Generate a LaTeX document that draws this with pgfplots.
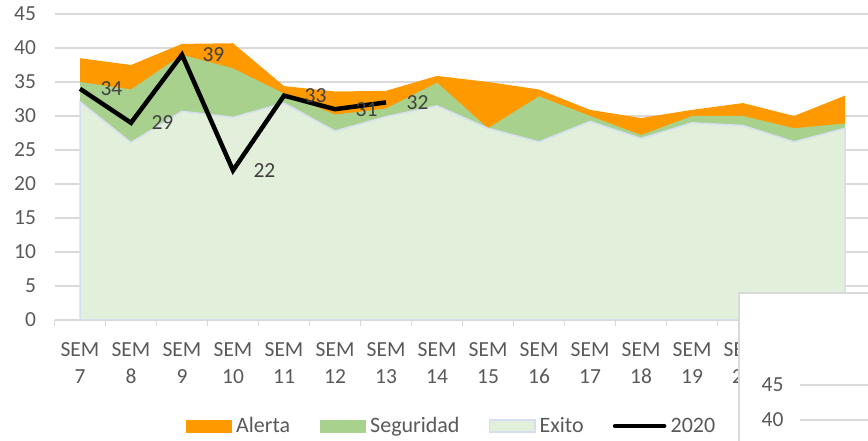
\documentclass[border=0pt]{standalone}
\usepackage{pgfplots}
\pgfplotsset{compat=1.18}
\usepackage{fontspec}
\setmainfont{Carlito}
\definecolor{alerta}{RGB}{255,153,0}
\definecolor{seguridad}{RGB}{169,209,142}
\definecolor{exito}{RGB}{226,239,218}
\definecolor{exitoedge}{RGB}{214,223,240}
\definecolor{gridgray}{RGB}{217,217,217}
\definecolor{tickgray}{RGB}{89,89,89}
\definecolor{labgray}{RGB}{64,64,64}
\newcommand\chartfont{\fontsize{21.5}{27}\selectfont}
\pgfplotsset{
  areaimg/.style={legend image code/.code={\path[draw=none,fill=none,use as bounding box] (0pt,-7pt) rectangle (47pt,7pt);\draw[##1] (0.75pt,-6pt) rectangle (46.25pt,6pt);}},
  lineimg/.style={legend image code/.code={\path[draw=none,fill=none,use as bounding box] (0pt,-7pt) rectangle (54pt,7pt);\draw[##1, line cap=round] (2.5pt,0pt) -- (51.5pt,0pt);}},
}
\pgfplotstableread{
x exito seguridad alerta
0  32.1 35.0 38.5
1  26.1 33.9 37.5
2  30.7 39.0 40.6
3  29.8 37.0 40.7
4  31.9 33.3 34.4
5  27.8 30.2 33.6
6  29.9 31.1 33.7
7  31.5 34.9 35.9
8  28.2 28.2 35.0
9  26.2 32.9 33.9
10 29.2 30.0 30.9
11 26.7 27.2 29.7
12 29.0 30.0 30.9
13 28.6 30.0 31.9
14 26.2 28.2 30.0
15 28.2 28.9 33.0
}\datatable
\pgfplotstableread{
x y
0 34
1 29
2 39
3 22
4 33
5 31
6 32
}\linetable
\begin{document}
\begin{tikzpicture}[x=1pt,y=1pt]
\path[use as bounding box] (0,0) rectangle (868,441);
\begin{axis}[
  at={(54.5pt,121pt)}, anchor=south west,
  scale only axis, width=813.5pt, height=306pt,
  xmin=-0.5, xmax=15.45, ymin=0, ymax=45,
  ytick={0,5,...,45},
  xtick={0,...,15},
  xticklabels={{SEM\\7},{SEM\\8},{SEM\\9},{SEM\\10},{SEM\\11},{SEM\\12},{SEM\\13},{SEM\\14},{SEM\\15},{SEM\\16},{SEM\\17},{SEM\\18},{SEM\\19},{SEM\\20},{SEM\\21},{SEM\\22}},
  minor xtick={-0.5,0.5,...,15.5},
  tick align=outside,
  major tick length=0pt, minor tick length=6pt,
  minor x tick style={draw=gridgray, line width=1.5pt},
  major tick style={draw=none},
  separate axis lines,
  axis x line*=bottom, axis y line*=left,
  x axis line style={draw=gridgray, line width=1.5pt, -},
  y axis line style={draw=none},
  ymajorgrids, major grid style={draw=gridgray, line width=1.5pt},
  /pgf/number format/assume math mode=true,
  yticklabel style={font=\chartfont, text=tickgray, xshift=-15pt},
  xticklabel style={align=center, font=\chartfont, text=tickgray, yshift=-19pt},
  legend columns=4,
  legend style={at={(0.1604,-0.3464)}, anchor=west, draw=none, fill=none,
    inner sep=0pt,
    font=\fontsize{22}{27}\selectfont, text=tickgray,
    /tikz/every even column/.append style={column sep=25pt},
    nodes={inner sep=4pt}},
]
\addlegendimage{areaimg, fill=alerta, draw=alerta}
\addlegendentry{Alerta}
\addlegendimage{areaimg, fill=seguridad, draw=seguridad}
\addlegendentry{Seguridad}
\addlegendimage{areaimg, fill=exito, draw=exitoedge, line width=1.5pt}
\addlegendentry{Exito}
\addlegendimage{lineimg, draw=black, line width=4.5pt}
\addlegendentry{2020}
\addplot[fill=alerta, draw=none, forget plot] table[x=x, y=alerta] {\datatable} \closedcycle;
\addplot[fill=seguridad, draw=none, forget plot] table[x=x, y=seguridad] {\datatable} \closedcycle;
\addplot[fill=exito, draw=exitoedge, line width=1.5pt, forget plot] table[x=x, y=exito] {\datatable} \closedcycle;
\addplot[black, line width=4.5pt, line join=miter, forget plot,
  nodes near coords, every node near coord/.append style={anchor=west, xshift=15pt, font=\chartfont, text=labgray}]
  table[x=x, y=y] {\linetable};
\end{axis}
\draw[fill=white, draw=gridgray, line width=1.5pt] (739,-10) rectangle (880,148);
\begin{axis}[
  at={(800pt,0pt)}, anchor=south west,
  scale only axis, width=80pt, height=148pt,
  xmin=0, xmax=1, ymin=37, ymax=58.14,
  ytick={40,45}, xtick=\empty,
  axis line style={draw=none},
  major tick style={draw=none},
  ymajorgrids, major grid style={draw=gridgray, line width=1.5pt},
  /pgf/number format/assume math mode=true,
  yticklabel style={font=\chartfont, text=tickgray, xshift=-13pt},
]
\addplot[draw=none] coordinates {(0,40)};
\end{axis}
\end{tikzpicture}
\end{document}
